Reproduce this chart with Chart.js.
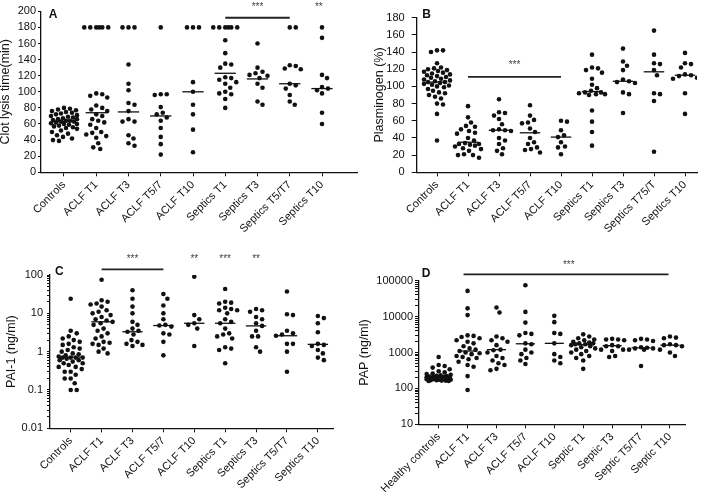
<!DOCTYPE html>
<html><head><meta charset="utf-8">
<script src="https://cdn.jsdelivr.net/npm/chart.js@4/dist/chart.umd.min.js"></script>
<style>
html,body{margin:0;padding:0;background:#fff;width:709px;height:496px;overflow:hidden;position:relative}
canvas{position:absolute}
</style></head><body>
<canvas id="cA" width="362" height="240" style="left:-2px;top:0"></canvas>
<canvas id="cB" width="359" height="240" style="left:350px;top:0"></canvas>
<canvas id="cC" width="350" height="256" style="left:0;top:240px"></canvas>
<canvas id="cD" width="359" height="256" style="left:350px;top:240px"></canvas>
<script>
// ---------- Panel A: clot lysis time ----------
const catsA = ['Controls','ACLF T1','ACLF T3','ACLF T5/7','ACLF T10','Septics T1','Septics T3','Septics T5/T7','Septics T10'];
const ticksA = [0,20,40,60,80,100,120,140,160,180,200];
const clotLysisValues = [
  [80,79,78,77,76,75,74,73,72,71,70,69,68,67,66,66,65,64,64,63,63,62,61,60,60,59,58,57,56,55,54,52,50,48,46,44,42,40,39],
  [180,180,180,180,180,180,98,97,95,93,83,80,78,76,72,70,66,64,62,59,55,50,49,47,45,43,36,31,29],
  [180,180,180,134,110,102,86,84,76,66,63,63,46,42,36,33],
  [180,97,97,96,81,74,72,68,64,55,44,35,22],
  [180,180,180,112,100,84,72,53,25],
  [180,180,180,180,180,180,164,148,135,134,130,118,117,115,112,110,105,100,98,97,91,80],
  [160,130,125,123,121,120,117,110,105,88,84],
  [180,180,133,132,129,128,110,108,104,96,88,84],
  [180,167,121,117,106,104,102,98,74,60]
];
const clotLysisMedians = [63,74,75,70,100,123,116,110,104];

// ---------- Panel B: plasminogen ----------
const catsB = ['Controls','ACLF T1','ACLF T3','ACLF T5/7','ACLF T10','Septics T1','Septics T3','Septics T75/T','Septics T10'];
const ticksB = [0,20,40,60,80,100,120,140,160,180];
const plasminogenValues = [
  [142,142,140,127,122,121,120,119,118,117,116,115,114,113,112,111,110,109,108,107,106,105,105,104,103,102,101,100,99,97,95,93,92,90,88,86,80,79,68,37],
  [77,64,58,54,53,50,48,46,45,40,37,34,33,33,32,31,30,28,27,25,21,20,20,17],
  [85,70,69,66,62,56,50,49,49,48,40,37,33,28,25,21],
  [78,66,61,58,57,51,47,40,35,33,29,27,26,23],
  [60,59,49,43,41,35,30,29,21],
  [137,122,121,119,116,109,102,98,95,93,93,92,91,91,90,72,59,47,31],
  [144,129,124,119,108,106,105,104,93,91,69],
  [165,137,127,126,119,113,92,91,83,24],
  [139,127,126,122,114,113,112,110,109,92,68]
];
const plasminogenMedians = [105,35,49,46,41,94,106,117,113];

// ---------- Panel C: PAI-1 ----------
const catsC = ['Controls','ACLF T1','ACLF T3','ACLF T5/7','ACLF T10','Septics T1','Septics T3','Septics T5/T7','Septics T10'];
const ticksC = [0.01,0.1,1,10,100];
const pai1Values = [
  [24,3.5,3.0,2.5,2.2,2.0,1.8,1.6,1.5,1.3,1.2,1.1,1.0,0.9,0.85,0.8,0.75,0.7,0.7,0.7,0.7,0.65,0.6,0.6,0.55,0.5,0.5,0.45,0.4,0.4,0.35,0.3,0.3,0.25,0.2,0.2,0.15,0.1,0.1],
  [75,22,20,18,17,15,12,11,10,9,8,7,6.5,6,5.5,5,4,3.5,3,2.5,2.2,1.8,1.7,1.6,1.5,1.2,1.0,0.9],
  [40,24,15,10,6,5,4,3.5,3.3,2.8,2.0,1.8,1.6,1.5,1.4],
  [32,24,16,10,7,5,4.8,4.5,3,2.8,1.8,0.8],
  [90,9,7,5.5,5,4,1.4],
  [43,20,19,18,14,13,12,12,10,7,6,5.5,4,3,2.8,2.5,2.2,1.3,1.2,1.1,0.5],
  [13,12,11,8,7,5.5,4.7,3.5,2.5,2.5,1.3,1.0],
  [37,9.5,9,3.5,3,2.8,2.6,1.6,1.6,1.0,0.3],
  [8.5,7.5,5.5,3.2,1.6,1.5,1.4,1.1,0.9,0.7,0.6]
];
const pai1Medians = [0.72,6,3.3,4.8,5.5,5.5,4.7,2.6,1.55];

// ---------- Panel D: PAP ----------
const catsD = ['Healthy controls','ACLF T1','ACLF T3','ACLF T5/7','ACLF T10','Septic T1','Septic T3','Septic T5/T7','Septic T10'];
const ticksD = [10,100,1000,10000,100000];
const papValues = [
  [750,450,420,380,340,300,280,260,250,240,230,225,220,215,210,210,205,200,200,200,195,195,190,190,185,185,180,180,175,175,170,170,165,165,160,160],
  [52000,17000,11000,3000,2900,2700,2500,2200,2000,1800,1500,1300,1200,1100,1000,950,900,800,750,700,650,550,450,400,220,90],
  [18000,13000,2800,2500,2200,2000,1600,1200,1150,1000,800,700,600,500,450,350,320],
  [75000,13500,6800,3500,3300,3000,1800,1700,1200,1000,900,700,600,480],
  [10500,7000,3500,3300,1800,900,750,600,500],
  [3200,2800,2500,2300,2200,2000,1900,1800,1800,1700,1700,1600,1500,1400,1300,1200,1100,1000,900,800,700,600,350],
  [2400,2300,2300,2200,1600,1500,1500,1200,1200,1100,800,750],
  [2400,2300,2200,2100,1400,1350,1300,1300,1200,1200,420],
  [2800,2600,2500,1700,1600,1600,1500,1200,1000,800]
];
const papMedians = [200,1100,1200,1750,1800,1650,1550,1350,1600];

// significance annotations (category positions, values)
const sigBarsA = [{x1:5,x2:7,y:192}];
const sigStarsA = [{x:6,y:205,t:'***'},{x:7.9,y:205,t:'**'}];
const sigBarsB = [{x1:1,x2:4,y:111}];
const sigStarsB = [{x:2.5,y:125,t:'***'}];
const sigBarsC = [{x1:1,x2:3,y:141}];
const sigStarsC = [{x:2,y:260,t:'***'},{x:4,y:260,t:'**'},{x:5,y:260,t:'***'},{x:6,y:260,t:'**'}];
const sigBarsD = [{x1:0.86,x2:7.95,y:150000}];
const sigStarsD = [{x:4.5,y:270000,t:'***'}];

const FAMILY = '"Liberation Sans", Arial, Helvetica, sans-serif';
const INK = '#111';

const panels = [
  {id:'cA', cats:catsA, values:clotLysisValues, medians:clotLysisMedians, yTicks:ticksA, yType:'linear',
   title:'Clot lysis time(min)', letter:'A', letterOff:[12,3], pad:{left:0,top:11.3,right:3,bottom:0},
   yWidth:43, xHeight:67.7, xMin:-0.713, xMax:9.085, tickLen:3, tickPad:2, bars:sigBarsA, stars:sigStarsA},
  {id:'cB', cats:catsB, values:plasminogenValues, medians:plasminogenMedians, yTicks:ticksB, yType:'linear',
   title:'Plasminogen (%)', letter:'B', letterOff:[10,-2.7], pad:{left:22.5,top:17.7,right:12,bottom:0},
   yWidth:44.2, xHeight:67.7, xMin:-0.655, xMax:8.387, tickLen:5, tickPad:7, bars:sigBarsB, stars:sigStarsB},
  {id:'cC', cats:catsC, values:pai1Values, medians:pai1Medians, yTicks:ticksC, yType:'logarithmic',
   title:'PAI-1 (ng/ml)', letter:'C', letterOff:[9.3,-3.3], pad:{left:4.2,top:35,right:17,bottom:0},
   yWidth:45.8, xHeight:67.7, xMin:-0.67, xMax:8.49, tickLen:3, tickPad:4, bars:sigBarsC, stars:sigStarsC},
  {id:'cD', cats:catsD, values:papValues, medians:papMedians, yTicks:ticksD, yType:'logarithmic',
   title:'PAP (ng/ml)', letter:'D', letterOff:[7,-7.4], pad:{left:7.5,top:40.7,right:24,bottom:0},
   yWidth:61.5, xHeight:71.7, xMin:-0.68, xMax:8.52, tickLen:4, tickPad:2, bars:sigBarsD, stars:sigStarsD}
];

const MEDIAN_HW = 0.33;
const SWARM_HW = 0.42;   // max horizontal spread, in category widths

function makeAnnot(p) {
  return {
    id: 'annot',
    afterDatasetsDraw(chart) {
      const {ctx, scales:{x, y}, chartArea} = chart;
      ctx.save();
      ctx.strokeStyle = INK;
      ctx.lineWidth = 1.3;
      p.medians.forEach((m, i) => {
        const py = y.getPixelForValue(m);
        ctx.beginPath();
        ctx.moveTo(x.getPixelForValue(i - MEDIAN_HW), py);
        ctx.lineTo(x.getPixelForValue(i + MEDIAN_HW), py);
        ctx.stroke();
      });
      ctx.strokeStyle = '#222';
      ctx.lineWidth = 1.8;
      p.bars.forEach(b => {
        const py = y.getPixelForValue(b.y);
        ctx.beginPath();
        ctx.moveTo(x.getPixelForValue(b.x1), py);
        ctx.lineTo(x.getPixelForValue(b.x2), py);
        ctx.stroke();
      });
      ctx.fillStyle = '#444';
      ctx.font = '10px ' + FAMILY;
      ctx.textAlign = 'center';
      ctx.textBaseline = 'middle';
      p.stars.forEach(s => ctx.fillText(s.t, x.getPixelForValue(s.x), y.getPixelForValue(s.y)));
      ctx.fillStyle = INK;
      ctx.font = 'bold 12px ' + FAMILY;
      ctx.fillText(p.letter, chartArea.left + p.letterOff[0], chartArea.top + p.letterOff[1]);
      ctx.restore();
    }
  };
}

function applySwarm(chart, groups) {
  const xs = chart.scales.x, ys = chart.scales.y;
  const MIN_D = 5.8;
  const catW = xs.getPixelForValue(1) - xs.getPixelForValue(0);
  const maxOff = Math.floor(catW * SWARM_HW);
  const cands = [0];
  for (let d = 1; d <= maxOff; d++) cands.push(d, -d);
  groups.forEach((vals, gi) => {
    const cx = xs.getPixelForValue(gi);
    const pts = vals.map((v, i) => ({i, py: ys.getPixelForValue(v)})).sort((a, b) => a.py - b.py);
    const placed = [];
    const offs = new Array(vals.length).fill(0);
    pts.forEach(pt => {
      let best = 0, bestD = -1;
      for (const off of cands) {
        let md = Infinity;
        for (const q of placed) md = Math.min(md, Math.hypot(q.px - (cx + off), q.py - pt.py));
        if (md >= MIN_D) { best = off; bestD = md; break; }
        if (md > bestD + 0.01) { bestD = md; best = off; }
      }
      placed.push({px: cx + best, py: pt.py});
      offs[pt.i] = best;
    });
    chart.data.datasets[gi].data = vals.map((v, i) => ({x: xs.getValueForPixel(cx + offs[i]), y: v}));
  });
  chart.update('none');
}

panels.forEach(p => {
  const isLog = p.yType === 'logarithmic';
  const datasets = p.values.map((vals, gi) => ({
    data: vals.map(v => ({x: gi, y: v})),
    backgroundColor: INK, borderWidth: 0, pointRadius: 2.3, pointHoverRadius: 2.3
  }));
  const chart = new Chart(document.getElementById(p.id), {
    type: 'scatter',
    data: {datasets},
    options: {
      responsive: false, animation: false, devicePixelRatio: 1,
      layout: {padding: p.pad},
      plugins: {legend: {display: false}, tooltip: {enabled: false}},
      scales: {
        x: {
          type: 'linear', min: p.xMin, max: p.xMax,
          afterBuildTicks: s => { s.ticks = p.cats.map((c, i) => ({value: i})); },
          afterFit: s => { s.height = p.xHeight; },
          ticks: {callback: v => p.cats[v] ?? '', autoSkip: false, minRotation: 45, maxRotation: 45,
                  font: {family: FAMILY, size: 11}, color: INK, padding: 2},
          grid: {display: true, drawOnChartArea: false, drawTicks: true, tickLength: 4, color: INK, lineWidth: 1},
          border: {display: true, color: INK, width: 1.3}
        },
        y: {
          type: p.yType, min: p.yTicks[0], max: p.yTicks[p.yTicks.length - 1],
          afterBuildTicks: s => {
            const t = [];
            p.yTicks.forEach((v, i) => {
              t.push({value: v, major: false});
              if (isLog && i < p.yTicks.length - 1) for (let k = 2; k < 10; k++) t.push({value: v * k});
            });
            s.ticks = t;
          },
          afterFit: s => { s.width = p.yWidth; },
          ticks: {callback: v => p.yTicks.includes(v) ? String(v) : '', autoSkip: false,
                  font: {family: FAMILY, size: 11}, color: INK, padding: p.tickPad},
          grid: {display: true, drawOnChartArea: false, drawTicks: true, tickLength: p.tickLen, color: INK, lineWidth: 1},
          border: {display: true, color: INK, width: 1.3},
          title: {display: true, text: p.title, font: {family: FAMILY, size: 12.5}, color: INK, padding: 0}
        }
      }
    },
    plugins: [makeAnnot(p)]
  });
  applySwarm(chart, p.values);
});
</script>
</body></html>
